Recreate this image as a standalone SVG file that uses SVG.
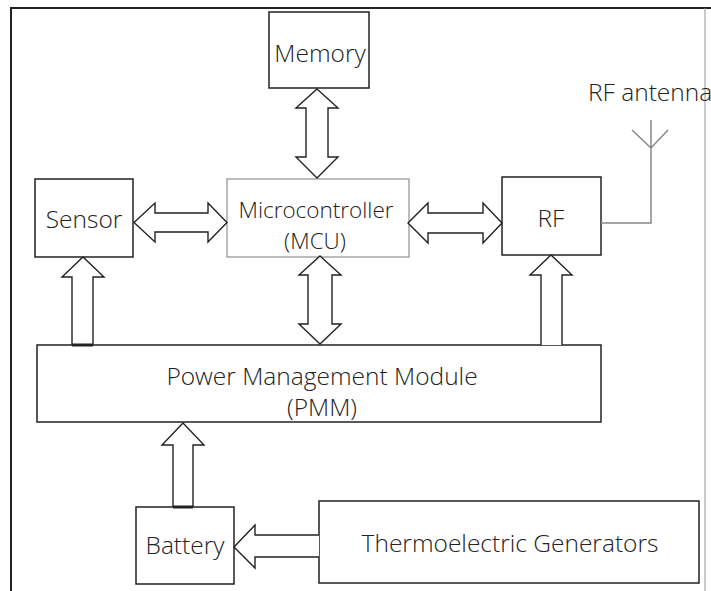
<svg xmlns="http://www.w3.org/2000/svg" width="711" height="591" viewBox="0 0 711 591">
<style>
.box{fill:#fff;stroke:#222;stroke-width:1.5}
.gbox{fill:#fff;stroke:#999;stroke-width:1.3}
.t{font-family:"Open Sans","Liberation Sans",sans-serif;font-weight:300;fill:#222;font-size:24.5px}
.s{font-size:22.5px}
.ar{fill:#fff;stroke:#222;stroke-width:1.4;stroke-linejoin:miter}
.ant{fill:none;stroke:#888;stroke-width:1.5}
.frame{fill:none;stroke:#222;stroke-width:2}
</style>
<rect width="711" height="591" fill="#fff"/>
<g id="frame">
<path class="frame" d="M11,591 L11,8 L711,8"/>
<path d="M705,8 L705,591" fill="none" stroke="#999" stroke-width="1"/>
</g>
<g id="memory">
<rect class="box" x="269" y="12" width="100" height="76"/>
<text class="t" x="320" y="62" text-anchor="middle">Memory</text>
</g>
<g id="sensor">
<rect class="box" x="35" y="179" width="98" height="78"/>
<text class="t" x="84" y="228" text-anchor="middle">Sensor</text>
</g>
<g id="mcu">
<rect class="gbox" x="227" y="179" width="182" height="78"/>
<text class="t s" x="316" y="218" text-anchor="middle">Microcontroller</text>
<text class="t s" x="315" y="249" text-anchor="middle">(MCU)</text>
</g>
<g id="rf">
<rect class="box" x="502" y="177" width="99" height="78"/>
<text class="t" x="551" y="227" text-anchor="middle">RF</text>
</g>
<g id="antenna">
<text class="t" x="588" y="101">RF antenna</text>
<path class="ant" d="M601,223 L651,223 L651,120 M632,130 L651,148 L668,130"/>
</g>
<g id="pmm">
<rect class="box" x="37" y="345" width="564" height="77"/>
<text class="t" x="322" y="385" text-anchor="middle">Power Management Module</text>
<text class="t" x="322" y="416" text-anchor="middle">(PMM)</text>
</g>
<g id="battery">
<rect class="box" x="136" y="507" width="98" height="77"/>
<text class="t" x="185" y="554" text-anchor="middle">Battery</text>
</g>
<g id="teg">
<rect class="box" x="319" y="501" width="380" height="82"/>
<text class="t" x="510" y="552" text-anchor="middle">Thermoelectric Generators</text>
</g>
<g id="connectors">
<path class="ar" d="M317,89 L338,108 L328,108 L328,157 L338,157 L317,178 L296,157 L306,157 L306,108 L296,108 Z"/>
<path class="ar" d="M320,256 L341,275 L332,275 L332,324 L341,324 L320,344 L299,324 L308,324 L308,275 L299,275 Z"/>
<path class="ar" d="M134,222.5 L155,203 L155,213 L208,213 L208,203 L227,222.5 L208,242 L208,232 L155,232 L155,242 Z"/>
<path class="ar" d="M408,223 L428,203 L428,213 L483,213 L483,203 L502,223 L483,243 L483,233 L428,233 L428,243 Z"/>
<path class="ar" d="M72,345 L72,277 L62,277 L83,257 L104,277 L93,277 L93,345"/>
<path d="M72,345 L93,345" stroke="#222" stroke-width="3"/>
<path class="ar" d="M541,345 L541,275 L530,275 L551,255 L572,275 L562,275 L562,345"/>
<path class="ar" d="M173,507 L173,445 L162,445 L183,423 L204,445 L193,445 L193,507"/>
<path d="M173,507 L193,507" stroke="#222" stroke-width="3"/>
<path class="ar" d="M319,535 L255,535 L255,525 L234,547 L255,568 L255,557 L319,557"/>
</g>
</svg>
